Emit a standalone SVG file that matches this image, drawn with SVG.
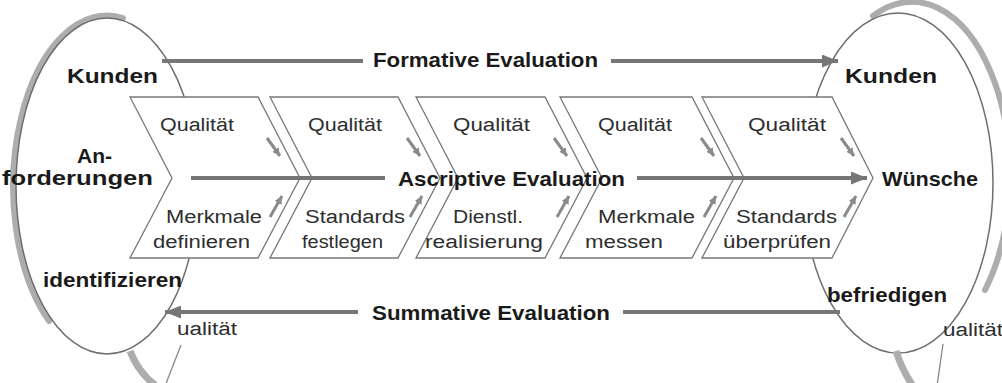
<svg xmlns="http://www.w3.org/2000/svg" width="1002" height="383" viewBox="0 0 1002 383">
<defs>
<style>
text{font-family:"Liberation Sans",Arial,sans-serif;}
.b{font-weight:bold;font-size:21px;fill:#1a1a1a;}
.r{font-size:18px;fill:#2e2e2e;}
.chev{fill:#fff;stroke:#777;stroke-width:1.3;stroke-linejoin:miter;}
.ell{fill:none;stroke:#6e6e6e;stroke-width:1.5;}
.band{fill:none;stroke:#adadad;stroke-width:6;stroke-linecap:round;}
.main{fill:none;stroke:#767676;stroke-width:4;}
.small{fill:none;stroke:#8a8a8a;stroke-width:3;}
</style>
<marker id="ah" markerUnits="userSpaceOnUse" markerWidth="17" markerHeight="13" refX="16" refY="6.5" orient="auto">
<path d="M0,0 L16,6.5 L0,13 z" fill="#767676"/>
</marker>
<marker id="sh" markerUnits="userSpaceOnUse" markerWidth="9" markerHeight="8" refX="8" refY="4" orient="auto">
<path d="M0,0 L8,4 L0,8 z" fill="#8a8a8a"/>
</marker>
</defs>
<rect width="1002" height="383" fill="#fff"/>

<g id="left-customer">
<path class="band" d="M 123 18 A 94 171 0 0 0 49 321"/>
<ellipse class="ell" cx="107" cy="186" rx="91" ry="168"/>
<path d="M 130 351 Q 138 372 156 386" fill="none" stroke="#adadad" stroke-width="7"/>
<path d="M 181 345 L 165 386" fill="none" stroke="#888" stroke-width="1.3"/>
</g>

<g id="right-customer">
<path class="band" d="M 873 16 A 98 173 0 0 1 985 290"/>
<ellipse class="ell" cx="898" cy="183" rx="95" ry="170"/>
<path d="M 896 351 Q 902 370 913 386" fill="none" stroke="#adadad" stroke-width="7"/>
<path d="M 943 344 L 937 386" fill="none" stroke="#888" stroke-width="1.3"/>
</g>

<g id="step1">
<polygon class="chev" points="130,97 258,97 300,178 258,258 130,258 172,178"/>
<text class="r" x="160" y="131" textLength="74" lengthAdjust="spacingAndGlyphs">Qualität</text>
<text class="r" x="166" y="223" textLength="96" lengthAdjust="spacingAndGlyphs">Merkmale</text>
<text class="r" x="153" y="248" textLength="97" lengthAdjust="spacingAndGlyphs">definieren</text>
</g>
<g id="step2">
<polygon class="chev" points="270,97 398,97 440,178 398,258 270,258 312,178"/>
<text class="r" x="308" y="131" textLength="74" lengthAdjust="spacingAndGlyphs">Qualität</text>
<text class="r" x="305" y="223" textLength="100" lengthAdjust="spacingAndGlyphs">Standards</text>
<text class="r" x="302" y="248" textLength="81" lengthAdjust="spacingAndGlyphs">festlegen</text>
</g>
<g id="step3">
<polygon class="chev" points="416,97 545,97 587,178 545,258 416,258 458,178"/>
<text class="r" x="453" y="131" textLength="77" lengthAdjust="spacingAndGlyphs">Qualität</text>
<text class="r" x="453" y="223" textLength="70" lengthAdjust="spacingAndGlyphs">Dienstl.</text>
<text class="r" x="425" y="248" textLength="118" lengthAdjust="spacingAndGlyphs">realisierung</text>
</g>
<g id="step4">
<polygon class="chev" points="560,97 692,97 734,178 692,258 560,258 602,178"/>
<text class="r" x="598" y="131" textLength="74" lengthAdjust="spacingAndGlyphs">Qualität</text>
<text class="r" x="598" y="223" textLength="97" lengthAdjust="spacingAndGlyphs">Merkmale</text>
<text class="r" x="585" y="248" textLength="78" lengthAdjust="spacingAndGlyphs">messen</text>
</g>
<g id="step5">
<polygon class="chev" points="702,97 832,97 873,178 832,258 702,258 744,178"/>
<text class="r" x="748" y="131" textLength="78" lengthAdjust="spacingAndGlyphs">Qualität</text>
<text class="r" x="736" y="223" textLength="101" lengthAdjust="spacingAndGlyphs">Standards</text>
<text class="r" x="723" y="248" textLength="108" lengthAdjust="spacingAndGlyphs">überprüfen</text>
</g>

<g id="connectors">
<path class="main" d="M 162 61 L 363 61"/>
<path class="main" d="M 611 61 L 838 61" marker-end="url(#ah)"/>
<path class="main" d="M 191 178 L 385 178"/>
<path class="main" d="M 637 178 L 867 178" marker-end="url(#ah)"/>
<path class="main" d="M 358 312 L 165 312" marker-end="url(#ah)"/>
<path class="main" d="M 623 312 L 840 312"/>
<path class="small" d="M 267 138 L 280 156" marker-end="url(#sh)"/>
<path class="small" d="M 270 217 L 282 196" marker-end="url(#sh)"/>
<path class="small" d="M 407 138 L 420 156" marker-end="url(#sh)"/>
<path class="small" d="M 410 217 L 422 196" marker-end="url(#sh)"/>
<path class="small" d="M 554 138 L 567 156" marker-end="url(#sh)"/>
<path class="small" d="M 557 217 L 569 196" marker-end="url(#sh)"/>
<path class="small" d="M 701 138 L 714 156" marker-end="url(#sh)"/>
<path class="small" d="M 704 217 L 716 196" marker-end="url(#sh)"/>
<path class="small" d="M 841 138 L 854 156" marker-end="url(#sh)"/>
<path class="small" d="M 844 217 L 856 196" marker-end="url(#sh)"/>
</g>

<g id="labels">
<text class="b" x="67" y="83" textLength="91" lengthAdjust="spacingAndGlyphs">Kunden</text>
<text class="b" x="845" y="83" textLength="92" lengthAdjust="spacingAndGlyphs">Kunden</text>
<text class="b" x="373" y="67" textLength="225" lengthAdjust="spacingAndGlyphs">Formative Evaluation</text>
<text class="b" x="77" y="163" textLength="35" lengthAdjust="spacingAndGlyphs">An-</text>
<text class="b" x="2" y="185" textLength="151" lengthAdjust="spacingAndGlyphs">forderungen</text>
<text class="b" x="398" y="186" textLength="227" lengthAdjust="spacingAndGlyphs">Ascriptive Evaluation</text>
<text class="b" x="882" y="186" textLength="96" lengthAdjust="spacingAndGlyphs">Wünsche</text>
<text class="b" x="43" y="287" textLength="139" lengthAdjust="spacingAndGlyphs">identifizieren</text>
<text class="b" x="827" y="302" textLength="120" lengthAdjust="spacingAndGlyphs">befriedigen</text>
<text class="b" x="372" y="320" textLength="238" lengthAdjust="spacingAndGlyphs">Summative Evaluation</text>
<text class="r" x="177" y="335" textLength="60" lengthAdjust="spacingAndGlyphs">ualität</text>
<text class="r" x="943" y="336" textLength="60" lengthAdjust="spacingAndGlyphs">ualität</text>
</g>
</svg>
